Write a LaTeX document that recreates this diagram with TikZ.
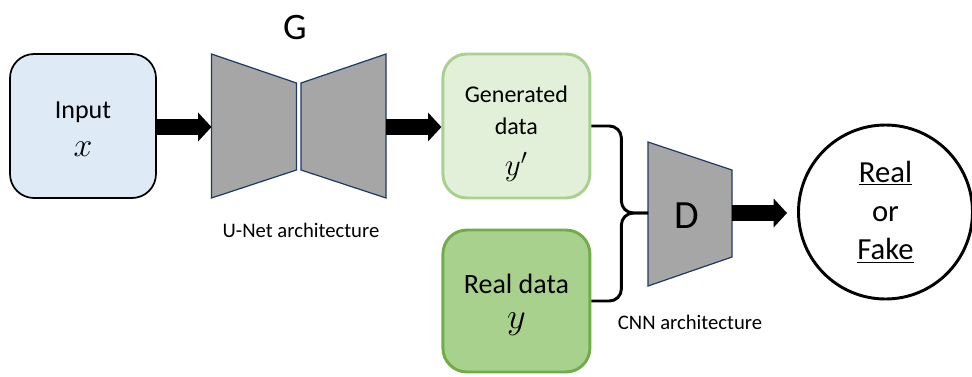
\RequirePackage{fix-cm}
\documentclass[tikz,border=0pt]{standalone}
\usepackage{graphicx}
\usepackage{fontspec}
\setmainfont{Carlito}
\usetikzlibrary{arrows.meta}
\definecolor{inputfill}{HTML}{DEEBF7}
\definecolor{genfill}{HTML}{E2F0D9}
\definecolor{gendraw}{HTML}{A9D18E}
\definecolor{realfill}{HTML}{A9D18E}
\definecolor{realdraw}{HTML}{70AD47}
\definecolor{netfill}{HTML}{A6A6A6}
\definecolor{netdraw}{HTML}{203864}
% enlarged math symbol for the sample labels
\newcommand{\mathsym}[1]{\scalebox{1.3}{$#1$}}

\begin{document}
\begin{tikzpicture}[x=0.75pt,y=-0.75pt,
  box/.style={rectangle, rounded corners=18pt, align=center, inner sep=0pt},
  net/.style={fill=netfill, draw=netdraw, line width=0.9pt, line join=miter},
  flow/.style={line width=12pt, -{Triangle[length=10pt,width=21pt]}},
  brace/.style={line width=2.2pt, rounded corners=9pt},
  caption/.style={font=\fontsize{15.5}{18}\selectfont}]

  \useasboundingbox (0,0) rectangle (972,376);

  % input image
  \node[box, draw=black, line width=1.3pt, fill=inputfill,
        minimum width=109.5pt, minimum height=108pt,
        font=\fontsize{19.5}{28.5}\selectfont] (input) at (83,126) {};
  \node[align=center, font=\fontsize{19.5}{28.5}\selectfont]
        (inputtext) at ([yshift=-2pt]input.center) {Input\\\mathsym{x}};

  % generator G: encoder / decoder halves
  \filldraw[net] (211.5,54) -- (296.5,83) -- (296.5,170) -- (211.5,198) -- cycle;
  \filldraw[net] (301,83) -- (386,54) -- (386,198) -- (301,170) -- cycle;
  \coordinate (gin) at (211.5,127);
  \coordinate (gout) at (386,127);
  \node[font=\fontsize{28}{32}\selectfont] (glabel) at (295,28) {G};
  \node[caption] (gcap) at (301,230) {U-Net architecture};

  % generated and real samples
  \node[box, draw=gendraw, line width=2.2pt, fill=genfill,
        minimum width=110.25pt, minimum height=108pt] (gen) at (516.4,126) {};
  \node[align=center, font=\fontsize{18}{24}\selectfont]
        (gentext) at ([yshift=-6pt]gen.center) {Generated\\data\\[6.5pt]\mathsym{y'}};
  \node[box, draw=realdraw, line width=2.2pt, fill=realfill,
        minimum width=110.25pt, minimum height=106.5pt] (real) at (516.4,301) {};
  \node[align=center, font=\fontsize{21}{26}\selectfont]
        (realtext) at ([yshift=-3pt]real.center) {Real data\\\mathsym{y}};

  % discriminator D
  \filldraw[net] (648,142) -- (732,170) -- (732,257) -- (648,286) -- cycle;
  \coordinate (din) at (648,213);
  \coordinate (dout) at (732,213);
  \node[font=\fontsize{30}{34}\selectfont] (dlabel) at (687,216) {D};
  \node[caption] (dcap) at (690,322) {CNN architecture};

  % verdict
  \node[circle, draw=black, line width=2.2pt, minimum size=130.5pt, inner sep=0pt,
        align=center, font=\fontsize{23}{29}\selectfont] (verdict) at (885.5,212)
        {\underline{Real}\\or\\\underline{Fake}};

  % data flow
  \draw[flow] (input.east |- gin) -- (gin);
  \draw[flow] (gout) -- (gen.west |- gout);
  \draw[flow, shorten >=7.5pt] (dout) -- (verdict.west |- dout);

  % brace joining both samples into D
  \draw[brace] (gen.east) -- ++(30,0) |- (din);
  \draw[brace] (real.east) -- ++(30,0) |- (din);
\end{tikzpicture}
\end{document}
